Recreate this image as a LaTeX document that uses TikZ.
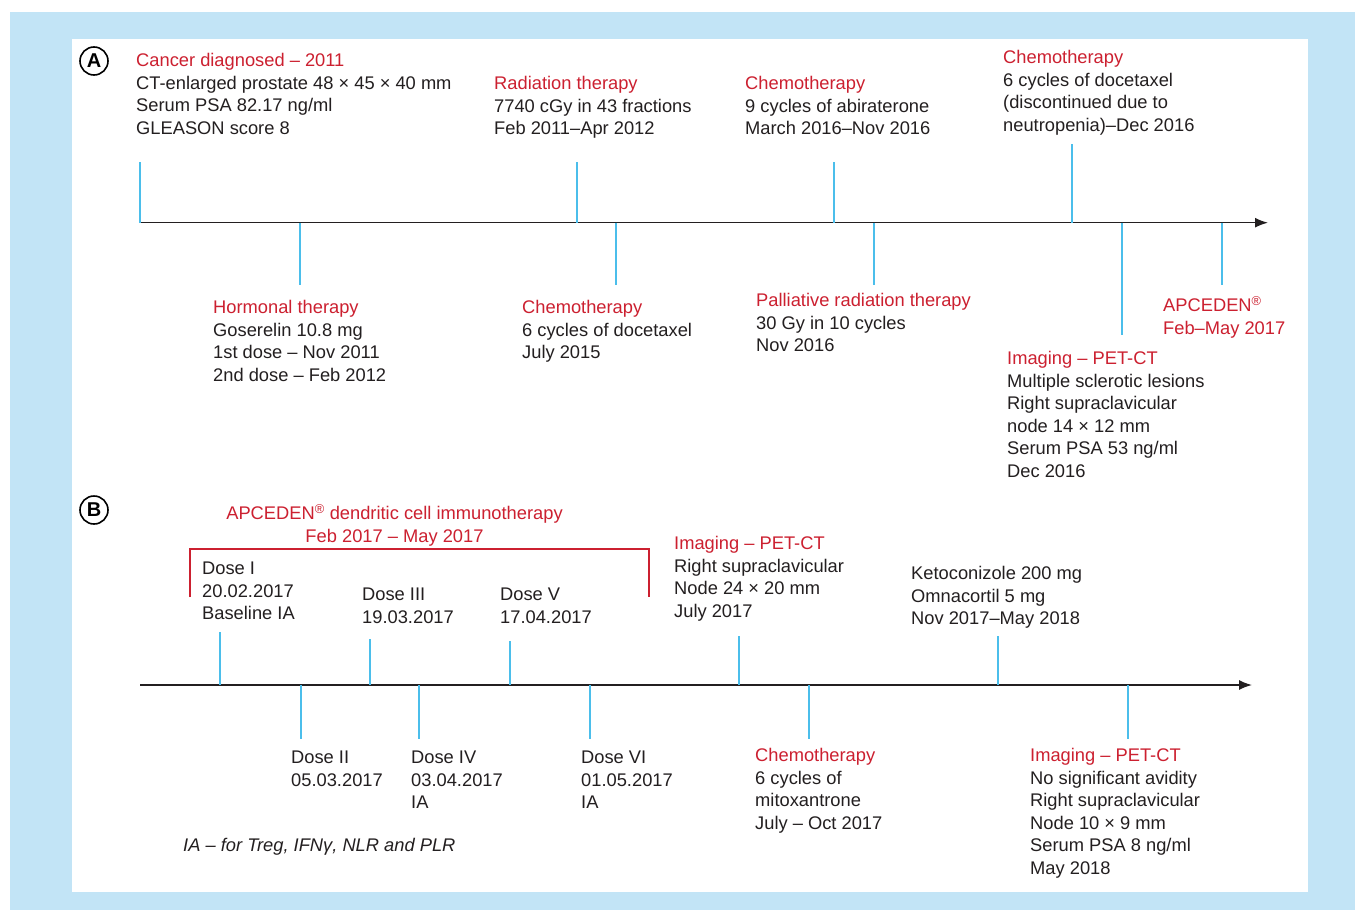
\documentclass[tikz,border=0pt]{standalone}
\usepackage{fontspec}
\setmainfont{Liberation Sans}
\usetikzlibrary{arrows.meta,positioning}
\definecolor{eventred}{RGB}{204,32,48}
\definecolor{tickblue}{RGB}{75,190,235}
\definecolor{panelblue}{RGB}{194,228,246}
\definecolor{inkgray}{RGB}{35,31,32}
\newcommand{\hd}[1]{\textcolor{eventred}{#1}}
\newcommand{\st}{\vrule width 0pt height 14pt\relax}

\begin{document}
\begin{tikzpicture}[
    x=1pt, y=-1pt,
    txt/.style={anchor=north west, inner sep=0pt, align=left, text=inkgray, font=\fontsize{18.3}{22.5}\selectfont},
    tick/.style={draw=tickblue, line width=1.5pt},
    axis/.style={draw=inkgray, line width=1.5pt, -{Latex[length=13pt,width=10pt]}},
    bracket/.style={draw=eventred, line width=1.3pt},
    panel/.style={circle, draw=black, line width=1.6pt, inner sep=0pt, minimum size=28pt, font=\fontsize{20}{20}\selectfont\bfseries}
]
    \useasboundingbox (0,0) rectangle (1355,910);
    \fill[white] (0,0) rectangle (1355,910);
    \fill[panelblue] (10,12) rectangle (1355,910);
    \fill[white] (72,39) rectangle (1308,892);

    \node[panel] (pA) at (94,61) {A};
    \node[panel] (pB) at (94,510) {B};

    % timeline A
    \coordinate (startA) at (140,222.7);
    \coordinate (endA) at (1268,222.7);
    \draw[axis] (startA) -- (endA);
    \foreach \n/\x/\y in {diag/140/162, rad/577/162, abi/834/162, doc2/1072/144,
                          horm/300/285, doc1/616/285, pall/874/285, petA/1122/335, apc/1222/285}{
        \coordinate (a-\n) at (\x,222.7);
        \coordinate (t-\n) at (\x,\y);
        \draw[tick] (a-\n) -- (t-\n);
    }

    \node[txt] (diag) at (136,52.5) {\st\hd{Cancer diagnosed – 2011}\\CT-enlarged prostate 48 × 45 × 40 mm\\Serum PSA 82.17 ng/ml\\GLEASON score 8};
    \node[txt] (rad) at (494,75.5) {\st\hd{Radiation therapy}\\7740 cGy in 43 fractions\\Feb 2011–Apr 2012};
    \node[txt] (abi) at (745,75.5) {\st\hd{Chemotherapy}\\9 cycles of abiraterone\\March 2016–Nov 2016};
    \node[txt] (doc2) at (1003,49.5) {\st\hd{Chemotherapy}\\6 cycles of docetaxel\\(discontinued due to\\neutropenia)–Dec 2016};
    \node[txt] (horm) at (213,299.5) {\st\hd{Hormonal therapy}\\Goserelin 10.8 mg\\1st dose – Nov 2011\\2nd dose – Feb 2012};
    \node[txt] (doc1) at (522,299.5) {\st\hd{Chemotherapy}\\6 cycles of docetaxel\\July 2015};
    \node[txt] (pall) at (756,292.5) {\st\hd{Palliative radiation therapy}\\30 Gy in 10 cycles\\Nov 2016};
    \node[txt] (apc) at (1163,296.5) {\st\hd{APCEDEN\textsuperscript{®}}\\\hd{Feb–May 2017}};
    \node[txt] (petA) at (1007,350.5) {\st\hd{Imaging – PET-CT}\\Multiple sclerotic lesions\\Right supraclavicular\\node 14 × 12 mm\\Serum PSA 53 ng/ml\\Dec 2016};

    % timeline B
    \coordinate (startB) at (140,685);
    \coordinate (endB) at (1252,685);
    \draw[axis] (startB) -- (endB);
    \foreach \n/\x/\y in {d1/220/632, d3/370/639, d5/510/641, petB/739/636, keto/998/636,
                          d2/301/739, d4/419/739, d6/590/739, mito/809/739, petC/1128/739}{
        \coordinate (b-\n) at (\x,685);
        \coordinate (u-\n) at (\x,\y);
        \draw[tick] (b-\n) -- (u-\n);
    }

    \node[txt, anchor=north, align=center] (dcvac) at (394.5,504.5) {\st\hd{APCEDEN\textsuperscript{®} dendritic cell immunotherapy}\\\hd{Feb 2017 – May 2017}};
    \coordinate (brL) at (190,597);
    \coordinate (brR) at (649,597);
    \draw[bracket] (brL) |- (394.5,549) -| (brR);

    \node[txt] (d1) at (202,560.5) {\st Dose I\\20.02.2017\\Baseline IA};
    \node[txt] (d3) at (362,586.5) {\st Dose III\\19.03.2017};
    \node[txt] (d5) at (500,586.5) {\st Dose V\\17.04.2017};
    \node[txt] (petB) at (674,535.5) {\st\hd{Imaging – PET-CT}\\Right supraclavicular\\Node 24 × 20 mm\\July 2017};
    \node[txt] (keto) at (911,565.5) {\st Ketoconizole 200 mg\\Omnacortil 5 mg\\Nov 2017–May 2018};
    \node[txt] (d2) at (291,749.5) {\st Dose II\\05.03.2017};
    \node[txt] (d4) at (411,749.5) {\st Dose IV\\03.04.2017\\IA};
    \node[txt] (d6) at (581,749.5) {\st Dose VI\\01.05.2017\\IA};
    \node[txt] (mito) at (755,747.5) {\st\hd{Chemotherapy}\\6 cycles of\\mitoxantrone\\July – Oct 2017};
    \node[txt] (petC) at (1030,747.5) {\st\hd{Imaging – PET-CT}\\No significant avidity\\Right supraclavicular\\Node 10 × 9 mm\\Serum PSA 8 ng/ml\\May 2018};

    \node[txt, font=\fontsize{18.3}{22.5}\selectfont\itshape] (note) at (183,837.5) {\st IA – for Treg, IFNγ, NLR and PLR};
\end{tikzpicture}
\end{document}
